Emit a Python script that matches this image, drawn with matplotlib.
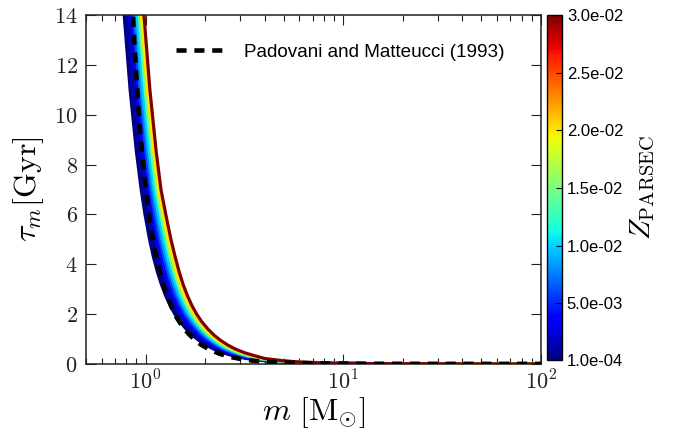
import math
import matplotlib
matplotlib.use("Agg")
import matplotlib.pyplot as plt
import matplotlib.ticker as mticker
from matplotlib import cm, colors

plt.rcParams['font.family'] = ['Liberation Sans', 'DejaVu Sans']
plt.rcParams['mathtext.fontset'] = 'cm'

# ---- data ----
# lifetime levels [Gyr] shared by the PARSEC curves
tau_levels = [20, 14, 11, 8.5, 7, 6, 5, 4.3, 3.7, 3.2, 2.75, 2.35, 2.0, 1.7, 1.4,
              1.15, 0.95, 0.75, 0.6, 0.45, 0.33, 0.22, 0.13, 0.07, 0.035, 0.015, 0.003]

z_values = [0.0001, 0.0005, 0.001, 0.002, 0.004, 0.006, 0.008, 0.010, 0.014, 0.020, 0.030]

# masses [Msun] reaching each lifetime level, one row per metallicity
m_z00001 = [0.704, 0.780, 0.836, 0.900, 0.951, 0.994, 1.048, 1.096, 1.148, 1.202, 1.263, 1.331, 1.408, 1.493,
            1.606, 1.729, 1.859, 2.032, 2.210, 2.464, 2.770, 3.258, 4.038, 5.285, 7.474, 12.69, 100]
m_z00005 = [0.717, 0.795, 0.852, 0.917, 0.969, 1.013, 1.069, 1.119, 1.172, 1.227, 1.289, 1.358, 1.437, 1.524,
            1.639, 1.764, 1.897, 2.074, 2.255, 2.515, 2.827, 3.312, 4.105, 5.354, 7.571, 12.77, 100]
m_z0001 = [0.729, 0.807, 0.865, 0.932, 0.984, 1.031, 1.088, 1.138, 1.192, 1.249, 1.312, 1.383, 1.463, 1.551,
           1.668, 1.796, 1.931, 2.111, 2.296, 2.559, 2.877, 3.361, 4.166, 5.415, 7.657, 12.85, 100]
m_z0002 = [0.746, 0.826, 0.886, 0.953, 1.007, 1.056, 1.115, 1.168, 1.223, 1.281, 1.346, 1.418, 1.500, 1.591,
           1.711, 1.842, 1.981, 2.165, 2.355, 2.625, 2.951, 3.431, 4.253, 5.502, 7.781, 12.95, 100]
m_z0004 = [0.768, 0.851, 0.912, 0.982, 1.038, 1.090, 1.152, 1.207, 1.264, 1.323, 1.391, 1.465, 1.550, 1.644,
           1.768, 1.904, 2.047, 2.237, 2.433, 2.713, 3.050, 3.525, 4.369, 5.619, 7.946, 13.09, 100]
m_z0006 = [0.786, 0.871, 0.934, 1.005, 1.062, 1.116, 1.181, 1.238, 1.296, 1.357, 1.426, 1.503, 1.590, 1.686,
           1.814, 1.953, 2.099, 2.295, 2.496, 2.783, 3.128, 3.599, 4.460, 5.710, 8.075, 13.19, 100]
m_z0008 = [0.803, 0.889, 0.953, 1.026, 1.084, 1.141, 1.207, 1.266, 1.326, 1.389, 1.459, 1.538, 1.627, 1.725,
           1.855, 1.998, 2.148, 2.348, 2.553, 2.847, 3.200, 3.667, 4.544, 5.793, 8.193, 13.29, 100]
m_z0010 = [0.818, 0.906, 0.971, 1.045, 1.105, 1.163, 1.232, 1.292, 1.353, 1.417, 1.489, 1.569, 1.660, 1.760,
           1.893, 2.038, 2.192, 2.396, 2.605, 2.905, 3.266, 3.728, 4.620, 5.869, 8.300, 13.37, 100]
m_z0014 = [0.839, 0.929, 0.996, 1.072, 1.133, 1.195, 1.266, 1.329, 1.392, 1.457, 1.531, 1.614, 1.707, 1.810,
           1.947, 2.096, 2.254, 2.463, 2.679, 2.987, 3.358, 3.814, 4.727, 5.974, 8.448, 13.49, 100]
m_z0020 = [0.860, 0.953, 1.021, 1.100, 1.162, 1.227, 1.301, 1.366, 1.431, 1.498, 1.574, 1.659, 1.755, 1.861,
           2.002, 2.155, 2.317, 2.533, 2.755, 3.071, 3.453, 3.902, 4.836, 6.080, 8.599, 13.61, 100]
m_z0030 = [0.886, 0.982, 1.052, 1.133, 1.197, 1.266, 1.344, 1.412, 1.479, 1.548, 1.627, 1.715, 1.814, 1.923,
           2.069, 2.227, 2.395, 2.618, 2.847, 3.174, 3.568, 4.008, 4.968, 6.209, 8.781, 13.76, 100]

mass_rows = [m_z00001, m_z00005, m_z0001, m_z0002, m_z0004, m_z0006,
             m_z0008, m_z0010, m_z0014, m_z0020, m_z0030]

# Padovani & Matteucci (1993)
m_pm = [0.80, 0.863, 0.891, 0.919, 0.956, 0.993, 1.032, 1.073, 1.120, 1.172, 1.230, 1.293,
        1.360, 1.440, 1.540, 1.655, 1.785, 1.930, 2.150, 2.390, 2.700, 3.120, 3.600,
        4.600, 6.000, 9.000, 15.00, 30.00, 100.0]
tau_pm = [20.0, 14.0, 12.0, 10.3, 8.6, 7.3, 6.2, 5.3, 4.5, 3.8, 3.2, 2.7,
          2.25, 1.85, 1.5, 1.2, 0.95, 0.75, 0.55, 0.4, 0.28, 0.18, 0.12,
          0.07, 0.04, 0.02, 0.01, 0.006, 0.004]

y_ticks = [0, 2, 4, 6, 8, 10, 12, 14]
cbar_ticks = [1e-4, 5e-3, 1e-2, 1.5e-2, 2e-2, 2.5e-2, 3e-2]

# ---- figure ----
W, H = 676, 430
fig = plt.figure(figsize=(W / 100, H / 100), dpi=100)
ax = fig.add_axes([86 / W, (H - 364) / H, 455 / W, 349 / H])

norm = colors.Normalize(vmin=1e-4, vmax=3e-2)
cmap = plt.get_cmap('jet')

for z, ms in zip(z_values, mass_rows):
    ax.plot(ms, tau_levels, color=cmap(norm(z)), lw=2.3, solid_capstyle='butt',
            solid_joinstyle='round')

ax.plot(m_pm, tau_pm, color='black', lw=3.3, linestyle=(0, (2.2, 1.7)),
        label='Padovani and Matteucci (1993)', zorder=5)

ax.set_xscale('log')
ax.set_xlim(0.5, 100)
ax.set_ylim(0, 14)
ax.set_yticks(y_ticks)
ax.set_yticklabels([r'$%d$' % v for v in y_ticks])
ax.xaxis.set_major_locator(mticker.LogLocator(base=10))
ax.xaxis.set_minor_locator(mticker.LogLocator(base=10, subs=range(2, 10)))
ax.xaxis.set_major_formatter(mticker.FuncFormatter(
    lambda v, p: r'$10^{%d}$' % round(math.log10(v))))
ax.xaxis.set_minor_formatter(mticker.NullFormatter())

ax.tick_params(which='both', direction='in', top=True, right=True, width=0.8, colors='#222222')
ax.tick_params(which='major', length=7, labelsize=16, pad=6)
ax.tick_params(which='minor', length=4.5)
ax.tick_params(axis='x', which='major', pad=5)
for s in ax.spines.values():
    s.set_linewidth(1.1)
    s.set_color('#222222')

ax.set_xlabel(r'$m\ [\mathrm{M}_{\odot}]$', fontsize=23, labelpad=0)
ax.set_ylabel(r'$\tau_m[\mathrm{Gyr}]$', fontsize=23, labelpad=6)

ax.legend(loc='center left', bbox_to_anchor=(176 / W, (H - 52) / H),
          bbox_transform=fig.transFigure, frameon=False, fontsize=13.6,
          handlelength=2.5, handletextpad=1.1, borderpad=0, borderaxespad=0)

cax = fig.add_axes([547 / W, (H - 360) / H, 15 / W, 345 / H])
sm = cm.ScalarMappable(norm=norm, cmap=cmap)
cb = fig.colorbar(sm, cax=cax, ticks=cbar_ticks, format='%.1e')
cb.ax.tick_params(labelsize=12, direction='in', length=4, width=0.8)
cb.outline.set_linewidth(1.0)
cb.set_label(r'$Z_{\mathrm{PARSEC}}$', fontsize=21, labelpad=4)

fig.savefig('out.png', dpi=100)
